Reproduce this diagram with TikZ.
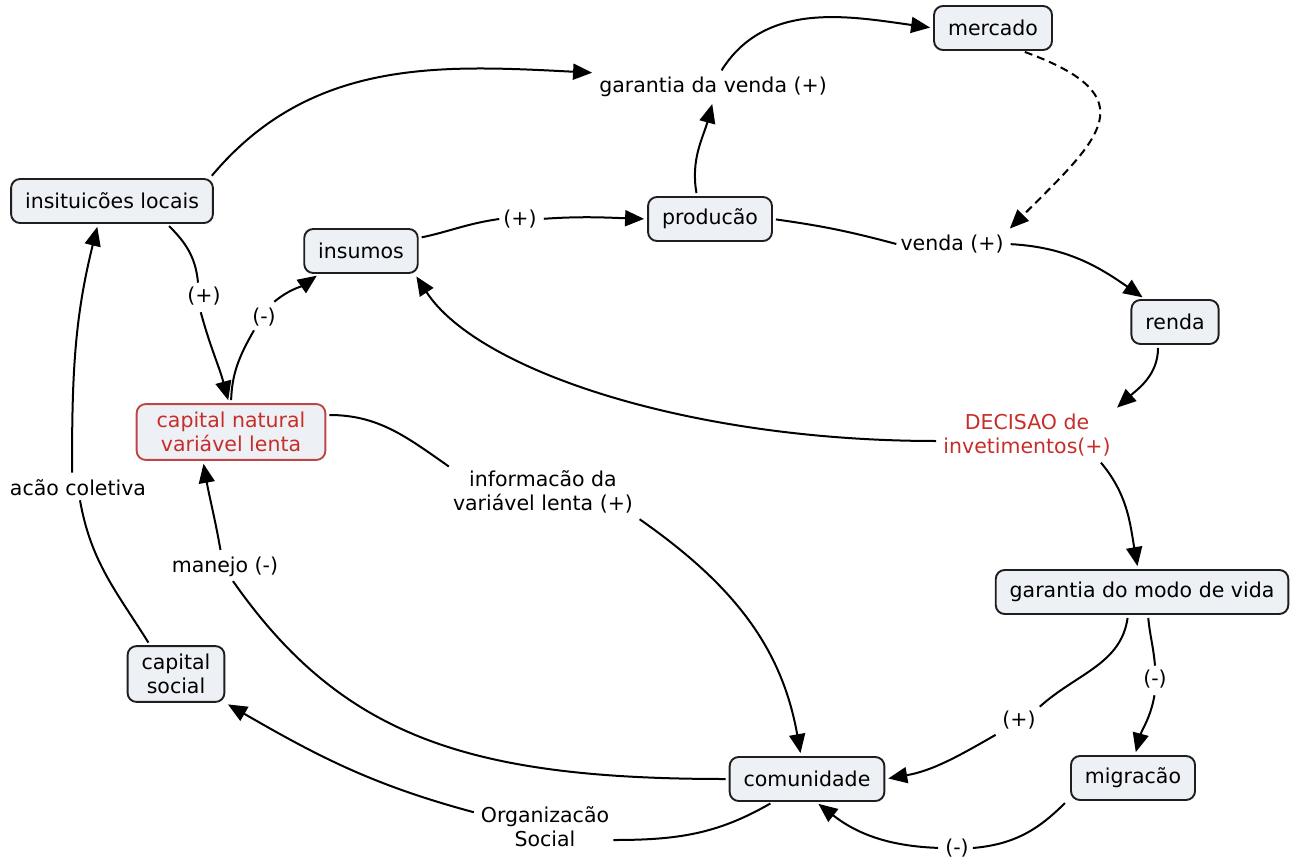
\documentclass[tikz,border=0pt]{standalone}
\usepackage{fontspec}
\setmainfont{DejaVu Sans}
\usetikzlibrary{arrows.meta}
\definecolor{boxfill}{RGB}{237,241,245}
\definecolor{boxline}{RGB}{30,30,30}
\definecolor{redline}{RGB}{190,70,70}
\definecolor{redtext}{RGB}{198,46,42}
\newcommand\cmfont{\fontsize{20.5}{24}\selectfont}

\begin{document}
\begin{tikzpicture}[x=1pt,y=1pt,
  box/.style={draw=boxline, fill=boxfill, rounded corners=9pt, line width=1.9pt,
    inner xsep=14pt, inner ysep=8pt, minimum height=44pt, font=\cmfont, align=center},
  redbox/.style={box, draw=redline, text=redtext, inner xsep=20pt},
  lab/.style={inner sep=4pt, font=\cmfont, align=center},
  redlab/.style={lab, text=redtext},
  ln/.style={line width=2pt, shorten <=3pt},
  arr/.style={ln, shorten >=3pt, -{Triangle[length=19pt,width=16pt]}}]
\useasboundingbox (0,0) rectangle (1295,-859);

% concepts
\node[box] (inst) at (112,-201) {insituicões locais};
\node[box] (ins) at (361,-251) {insumos};
\node[box] (prod) at (710,-219) {producão};
\node[box] (merc) at (993,-28) {mercado};
\node[box] (renda) at (1175,-322) {renda};
\node[redbox] (cap) at (231,-432) {capital natural\\variável lenta};
\node[box] (gmv) at (1142,-592) {garantia do modo de vida};
\node[box] (cs) at (176,-674) {capital\\social};
\node[box] (com) at (807,-779) {comunidade};
\node[box] (mig) at (1133,-778) {migracão};

% linking phrases
\node[lab] (lgv) at (713,-87) {garantia da venda (+)};
\node[lab] (lp1) at (520,-219) {(+)};
\node[lab] (lvenda) at (952,-244) {venda (+)};
\node[lab] (lp2) at (204,-296) {(+)};
\node[lab] (lm1) at (264,-317) {(-)};
\node[redlab] (dec) at (1027,-435) {DECISAO de\\invetimentos(+)};
\node[lab] (info) at (543,-492) {informacão da\\variável lenta (+)};
\node[lab] (acao) at (78,-488) {acão coletiva};
\node[lab] (manejo) at (225,-567) {manejo (-)};
\node[lab] (lm2) at (1155,-679) {(-)};
\node[lab] (lp3) at (1019,-720) {(+)};
\node[lab] (org) at (545,-827) {Organizacão\\Social};
\node[lab] (lm3) at (957,-848) {(-)};

% connections
\draw[arr] ([xshift=-4pt]inst.north east) to[out=50,in=177] (lgv.north west);
\draw[arr] ([xshift=7pt]lgv.north) to[out=58,in=172] (merc.west);
\draw[arr] ([xshift=-13pt]prod.north) to[out=100,in=-105] (lgv.south);
\draw[arr, dash pattern=on 8pt off 5pt] ([xshift=29pt]merc.south) .. controls +(-20:135) and +(45:130) .. (lvenda.north east);
\draw[ln] (prod.east) to[out=-8,in=165] (lvenda.west);
\draw[arr] (lvenda.east) to[out=-3,in=145] ([xshift=-30pt]renda.north);
\draw[ln] ([yshift=13pt]ins.east) to[out=12,in=188] (lp1.west);
\draw[arr] (lp1.east) to[out=4,in=178] (prod.west);
\draw[arr] ([xshift=-17pt]renda.south) to[out=-90,in=42] (dec.north east);
\draw[arr] ([yshift=-6pt]dec.west) .. controls +(180:250) and +(-57:115) .. ([xshift=-4pt]ins.south east);
\draw[arr] ([xshift=72pt]dec.south) to[out=-50,in=100] ([xshift=-4pt]gmv.north);
\draw[ln] ([xshift=55pt]inst.south) to[out=-45,in=95] ([xshift=-6pt]lp2.north);
\draw[arr] ([xshift=-4pt]lp2.south) to[out=-75,in=105] ([xshift=-2pt]cap.north);
\draw[ln] (cap.north) to[out=88,in=-120] ([xshift=-10pt]lm1.south);
\draw[arr] ([xshift=8pt]lm1.north) to[out=40,in=-145] ([xshift=16pt]ins.south west);
\draw[ln] ([yshift=17pt]cap.east) to[out=0,in=145] (info.north west);
\draw[arr] (info.south east) to[out=-35,in=100] ([xshift=-6pt]com.north);
\draw[ln] (com.west) .. controls +(180:260) and +(-55:190) .. ([xshift=8pt]manejo.south);
\draw[arr] ([xshift=-4pt]manejo.north) to[out=100,in=-80] ([xshift=-28pt]cap.south);
\draw[ln] ([xshift=-34pt]com.south) to[out=-150,in=0] ([yshift=-13pt]org.east);
\draw[arr] ([yshift=14pt]org.west) to[out=165,in=-30] (cs.south east);
\draw[ln] ([xshift=-26pt]cs.north) to[out=122,in=-80] ([xshift=2pt]acao.south);
\draw[arr] ([xshift=-6pt]acao.north) to[out=90,in=-104] ([xshift=-14pt]inst.south);
\draw[ln] ([xshift=-14pt]gmv.south) to[out=-98,in=42] (lp3.north east);
\draw[arr] (lp3.south west) to[out=-150,in=10] (com.east);
\draw[ln] ([xshift=6pt]gmv.south) to[out=-85,in=95] (lm2.north);
\draw[arr] (lm2.south) to[out=-100,in=75] ([xshift=2pt]mig.north);
\draw[ln] ([xshift=-3pt]mig.south west) to[out=-135,in=5] (lm3.east);
\draw[arr] (lm3.west) to[out=178,in=-38] ([xshift=9pt]com.south);
\end{tikzpicture}
\end{document}
